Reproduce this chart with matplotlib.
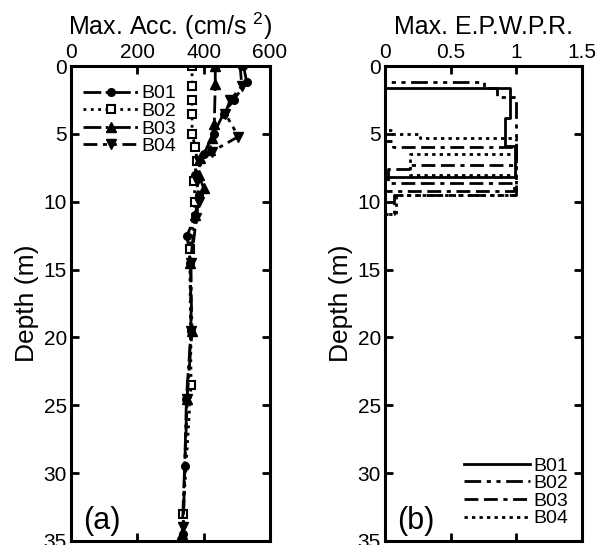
import numpy as np
import matplotlib
matplotlib.use('Agg')
import matplotlib.pyplot as plt

plt.rcParams['font.family'] = ['Liberation Sans', 'DejaVu Sans']
plt.rcParams['mathtext.fontset'] = 'custom'
plt.rcParams['mathtext.rm'] = 'Liberation Sans'
plt.rcParams['mathtext.it'] = 'Liberation Sans'

# (a) max. acceleration profiles (depth in m, acc in cm/s2)
b01_depth = [0, 1.2, 2.5, 3.5, 5.0, 6.5, 8.0, 9.5, 11.0, 12.5, 14.5, 19.5, 24.5, 29.5, 34.5]
b01_acc = [520, 530, 490, 460, 430, 400, 375, 385, 375, 350, 360, 362, 348, 343, 338]

b02_depth = [0, 1.5, 2.5, 3.5, 5.0, 6.0, 7.0, 8.5, 10.0, 13.5, 23.5, 33.0]
b02_acc = [365, 365, 365, 365, 365, 375, 380, 370, 375, 358, 362, 338]

b03_depth = [0, 1.3, 4.3, 5.3, 6.2, 6.8, 8.0, 9.0, 11.0, 14.5, 19.5, 24.5, 34.5]
b03_acc = [435, 435, 432, 425, 420, 390, 385, 400, 375, 360, 365, 350, 335]

b04_depth = [0, 1.5, 2.5, 3.5, 5.2, 6.3, 7.0, 8.5, 10.0, 11.2, 14.5, 19.5, 24.5, 34.0]
b04_acc = [510, 515, 480, 465, 505, 425, 385, 380, 385, 378, 362, 362, 350, 338]

# (b) max. excess pore water pressure ratio, layer edges and values
b01_edges = [0, 1.6, 3.8, 5.9, 8.2, 35]
b01_ru = [0.0, 0.95, 0.91, 0.99, 0.0]

b02_edges = [0, 1.2, 1.6, 2.3, 9.5, 10.9, 35]
b02_ru = [0.0, 0.75, 0.85, 1.0, 0.07, 0.0]

b03_edges = [0, 5.5, 6.0, 7.3, 7.6, 8.65, 9.2, 35]
b03_ru = [0.0, 0.06, 1.0, 0.19, 0.02, 0.98, 0.0]

b04_edges = [0, 4.7, 5.0, 5.3, 6.5, 8.0, 9.5, 10.9, 35]
b04_ru = [0.0, 0.05, 0.27, 1.0, 0.19, 1.0, 0.08, 0.0]

names = ['B01', 'B02', 'B03', 'B04']


def step_profile(edges, vals):
    # vertical steps: each value holds between its two layer edges
    x = np.repeat(vals, 2)
    y = np.column_stack((edges[:-1], edges[1:])).ravel()
    return x, y


def style_axes(ax):
    ax.set_ylim(35, 0)
    ax.set_yticks(range(0, 36, 5))
    ax.tick_params(direction='in', top=True, bottom=True, left=True, right=True,
                   labeltop=True, labelbottom=False, labelsize=15,
                   length=6, width=2, pad=3)
    ax.xaxis.set_label_position('top')
    for s in ax.spines.values():
        s.set_linewidth(2.2)
    ax.set_ylabel('Depth (m)', fontsize=19, labelpad=3)


fig = plt.figure(figsize=(6.1, 5.45), dpi=100)

# (a)
ax1 = fig.add_axes([71/610, 4/545, 199/610, 475/545])
ax1.plot(b01_acc, b01_depth, color='k', ls='-.', lw=2, marker='o', ms=5.5, label=names[0])
ax1.plot(b02_acc, b02_depth, color='k', ls=':', lw=2, marker='s', ms=5.5,
         mfc='white', mew=1.5, label=names[1])
ax1.plot(b03_acc, b03_depth, color='k', ls='-.', lw=2, marker='^', ms=6.5, label=names[2])
ax1.plot(b04_acc, b04_depth, color='k', ls=(0, (5, 2, 1.5, 2, 1.5, 2)), lw=2,
         marker='v', ms=6.5, label=names[3])
ax1.set_xlim(0, 600)
ax1.set_xticks([0, 200, 400, 600])
style_axes(ax1)
ax1.set_xlabel(r'Max. Acc. (cm/s $^{2}$)', fontsize=18, labelpad=6)
ax1.legend(loc='upper left', frameon=False, fontsize=14, labelspacing=0.0,
           handlelength=2.9, handletextpad=0.1, borderaxespad=0.2,
           bbox_to_anchor=(0.0, 0.985))
ax1.text(0.06, 0.025, '(a)', transform=ax1.transAxes, fontsize=22)

# (b)
ax2 = fig.add_axes([385/610, 4/545, 197/610, 475/545])
styles = ['-', (0, (6, 2, 1.5, 2, 1.5, 2)), (0, (5, 2, 5, 2, 1.5, 2)), (0, (1.2, 1.5))]
profiles = [(b01_edges, b01_ru), (b02_edges, b02_ru), (b03_edges, b03_ru), (b04_edges, b04_ru)]
for (edges, vals), st, nm in zip(profiles, styles, names):
    x, y = step_profile(edges, vals)
    ax2.plot(x, y, color='k', ls=st, lw=2, label=nm)
ax2.set_xlim(0, 1.5)
ax2.set_xticks([0, 0.5, 1, 1.5])
ax2.set_xticklabels(['0', '0.5', '1', '1.5'])
style_axes(ax2)
ax2.set_xlabel('Max. E.P.W.P.R.', fontsize=18, labelpad=6)
ax2.legend(loc='lower right', frameon=False, fontsize=14, labelspacing=0.0,
           handlelength=3.4, handletextpad=0.2, borderaxespad=0.3)
ax2.text(0.06, 0.025, '(b)', transform=ax2.transAxes, fontsize=22)

fig.savefig('out.png', dpi=100)
